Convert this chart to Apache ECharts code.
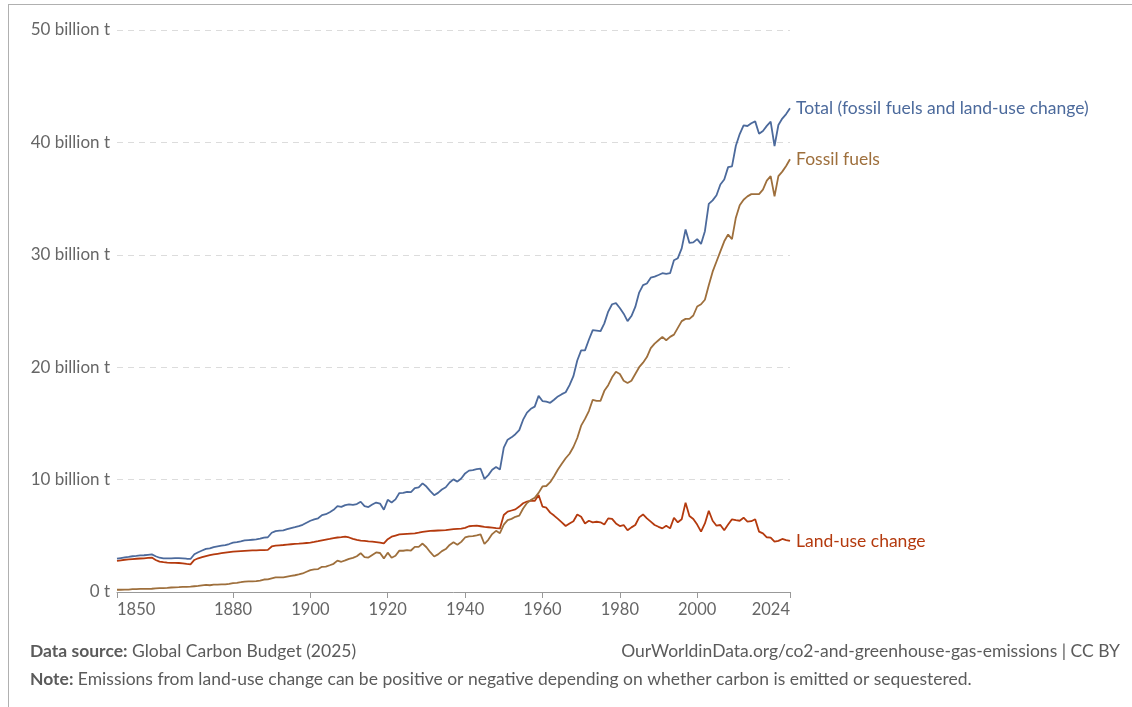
<!DOCTYPE html>
<html>
<head>
<meta charset="utf-8">
<script src="https://cdn.jsdelivr.net/npm/echarts@6/dist/echarts.min.js"></script>
<style>
  html, body { margin: 0; padding: 0; background: #fff; }
  #frame { position: absolute; left: 8px; top: 4px; width: 1200px; height: 800px; border-left: 1px solid #b0b0b0; border-top: 1px solid #b0b0b0; }
  #chart { position: absolute; left: 0; top: 0; width: 1132px; height: 707px; }
</style>
</head>
<body>
<div id="frame"></div>
<div id="chart"></div>
<script>
// Years 1850..2024
const startYear = 1850;
const endYear = 2024;

const fossilFuels = [
  0.20,0.20,0.21,0.22,0.25,0.25,0.27,0.27,0.28,0.29,
  0.33,0.35,0.35,0.37,0.40,0.42,0.43,0.45,0.46,0.48,
  0.51,0.54,0.59,0.63,0.60,0.65,0.66,0.67,0.68,0.72,
  0.79,0.82,0.87,0.93,0.94,0.95,0.97,1.02,1.11,1.12,
  1.22,1.30,1.31,1.30,1.37,1.44,1.49,1.56,1.65,1.80,
  1.95,2.01,2.04,2.24,2.26,2.38,2.51,2.79,2.69,2.81,
  2.95,3.03,3.18,3.45,3.10,3.06,3.30,3.52,3.47,2.99,
  3.50,3.05,3.22,3.68,3.67,3.73,3.69,4.02,4.02,4.31,
  3.98,3.54,3.16,3.35,3.64,3.82,4.19,4.42,4.20,4.46,
  4.85,4.95,4.97,5.04,5.12,4.27,4.64,5.15,5.44,5.23,
  6.00,6.40,6.51,6.69,6.80,7.43,7.91,8.18,8.39,8.82,
  9.39,9.43,9.77,10.3,10.9,11.4,11.9,12.3,12.9,13.7,
  14.8,15.4,16.1,17.1,17.0,17.0,17.9,18.4,19.1,19.6,
  19.4,18.8,18.6,18.8,19.4,20.0,20.4,20.9,21.7,22.1,
  22.4,22.7,22.4,22.7,22.9,23.5,24.1,24.3,24.3,24.6,
  25.4,25.6,26.0,27.3,28.5,29.4,30.3,31.2,31.8,31.4,
  33.3,34.4,34.9,35.2,35.4,35.4,35.4,35.8,36.6,37.0,
  35.2,37.0,37.4,37.9,38.5
];

const landUseChange = [
  2.76,2.82,2.87,2.90,2.93,2.96,2.98,3.00,3.03,3.06,
  2.85,2.70,2.65,2.62,2.60,2.60,2.58,2.55,2.50,2.46,
  2.85,3.00,3.10,3.20,3.28,3.35,3.40,3.45,3.50,3.55,
  3.60,3.62,3.64,3.66,3.68,3.70,3.71,3.72,3.73,3.75,
  4.05,4.12,4.15,4.18,4.22,4.25,4.28,4.30,4.33,4.36,
  4.39,4.45,4.52,4.60,4.66,4.72,4.80,4.85,4.88,4.92,
  4.85,4.72,4.64,4.58,4.54,4.50,4.48,4.44,4.40,4.33,
  4.70,4.92,5.02,5.12,5.15,5.18,5.20,5.22,5.28,5.35,
  5.40,5.43,5.45,5.47,5.48,5.50,5.55,5.60,5.62,5.64,
  5.70,5.85,5.88,5.90,5.85,5.80,5.76,5.72,5.68,5.66,
  6.85,7.15,7.25,7.35,7.60,7.90,8.05,8.12,8.10,8.63,
  7.60,7.50,7.06,6.80,6.50,6.20,5.87,6.10,6.30,6.90,
  6.70,6.10,6.34,6.20,6.25,6.20,6.00,6.55,6.50,6.10,
  5.87,5.96,5.50,5.75,5.96,6.64,6.90,6.55,6.26,5.96,
  5.80,5.66,5.90,5.66,6.61,6.20,6.47,7.95,6.76,6.50,
  6.00,5.37,6.10,7.23,6.34,5.90,5.96,5.50,6.00,6.47,
  6.40,6.34,6.61,6.26,6.30,6.47,5.37,5.22,4.87,4.84,
  4.48,4.55,4.72,4.62,4.54
];

const totalEmissions = [
  2.96,3.02,3.08,3.12,3.18,3.21,3.25,3.27,3.31,3.35,
  3.18,3.05,3.00,2.99,3.00,3.02,3.01,3.00,2.96,2.94,
  3.36,3.54,3.69,3.83,3.88,4.00,4.06,4.12,4.18,4.27,
  4.39,4.44,4.51,4.59,4.62,4.65,4.68,4.74,4.84,4.87,
  5.27,5.42,5.46,5.48,5.59,5.69,5.77,5.86,5.98,6.16,
  6.34,6.46,6.56,6.84,6.92,7.10,7.31,7.64,7.57,7.73,
  7.80,7.75,7.82,8.03,7.64,7.56,7.78,7.96,7.87,7.32,
  8.20,7.97,8.24,8.80,8.82,8.91,8.89,9.24,9.30,9.66,
  9.38,8.97,8.61,8.82,9.12,9.32,9.74,10.02,9.82,10.10,
  10.55,10.80,10.85,10.94,10.97,10.07,10.40,10.87,11.12,10.89,
  12.85,13.55,13.76,14.04,14.40,15.33,15.96,16.30,16.49,17.45,
  16.99,16.93,16.83,17.10,17.40,17.60,17.77,18.40,19.20,20.60,
  21.50,21.50,22.44,23.30,23.25,23.20,23.90,24.95,25.60,25.70,
  25.27,24.76,24.10,24.55,25.36,26.64,27.30,27.45,27.96,28.06,
  28.20,28.36,28.30,28.36,29.51,29.70,30.57,32.25,31.06,31.10,
  31.40,30.97,32.10,34.53,34.84,35.30,36.26,36.70,37.80,37.87,
  39.70,40.74,41.51,41.46,41.70,41.87,40.77,41.02,41.47,41.84,
  39.68,41.55,42.12,42.52,43.04
];

const xTickValues = [1850, 1880, 1900, 1920, 1940, 1960, 1980, 2000, 2024];
const yTickValues = [0, 10, 20, 30, 40, 50];

const seriesNames = ['Total (fossil fuels and land-use change)', 'Fossil fuels', 'Land-use change'];
const seriesColors = ['#4c6a9c', '#9e6f3c', '#b43a0e'];

function pairs(arr) {
  return arr.map((v, i) => [startYear + i, v]);
}

const chart = echarts.init(document.getElementById('chart'), null, { renderer: 'canvas' });
const font = 'Lato, "Open Sans", sans-serif';

const allData = [totalEmissions, fossilFuels, landUseChange];

chart.setOption({
  animation: false,
  textStyle: { fontFamily: font },
  grid: { left: 117, right: 342, top: 30, bottom: 115, containLabel: false },
  xAxis: {
    type: 'value',
    min: startYear,
    max: endYear,
    axisLine: { show: true, lineStyle: { color: '#999', width: 1 } },
    axisTick: { show: true, customValues: xTickValues, length: 6, lineStyle: { color: '#999' } },
    axisLabel: {
      customValues: xTickValues,
      color: '#666', fontSize: 16.5, fontFamily: font, margin: 9,
      alignMinLabel: 'left', alignMaxLabel: 'right',
      formatter: v => String(v)
    },
    splitLine: { show: false }
  },
  yAxis: {
    type: 'value',
    min: 0, max: 50, interval: 10,
    axisLine: { show: false },
    axisTick: { show: false },
    axisLabel: {
      color: '#666', fontSize: 17, fontFamily: font, margin: 7,
      formatter: v => (v === 0 ? '0 t' : v + ' billion t')
    },
    splitLine: {
      show: true,
      showMinLine: false,
      lineStyle: { color: '#dcdcdc', type: [6, 5], width: 1 }
    }
  },
  series: seriesNames.map((name, i) => ({
    name: name,
    type: 'line',
    data: pairs(allData[i]),
    showSymbol: false,
    symbol: 'none',
    lineStyle: { color: seriesColors[i], width: 1.8 },
    itemStyle: { color: seriesColors[i] },
    z: 3 - i,
    endLabel: {
      show: true,
      formatter: name,
      color: seriesColors[i],
      fontSize: 17.5,
      fontFamily: font,
      distance: 6
    }
  })),
  graphic: [
    {
      type: 'text', left: 30, top: 642,
      style: {
        text: '{b|Data source:} Global Carbon Budget (2025)',
        rich: { b: { fontWeight: 'bold', fontSize: 17.5, fontFamily: font, fill: '#5b5b5b' } },
        fontSize: 17.5, fontFamily: font, fill: '#5b5b5b'
      }
    },
    {
      type: 'text', right: 12, top: 642,
      style: {
        text: 'OurWorldinData.org/co2-and-greenhouse-gas-emissions | CC BY',
        fontSize: 17.5, fontFamily: font, fill: '#5b5b5b'
      }
    },
    {
      type: 'text', left: 30, top: 670,
      style: {
        text: '{b|Note:} Emissions from land-use change can be positive or negative depending on whether carbon is emitted or sequestered.',
        rich: { b: { fontWeight: 'bold', fontSize: 17.5, fontFamily: font, fill: '#5b5b5b' } },
        fontSize: 17.5, fontFamily: font, fill: '#5b5b5b'
      }
    }
  ]
});
</script>
</body>
</html>
